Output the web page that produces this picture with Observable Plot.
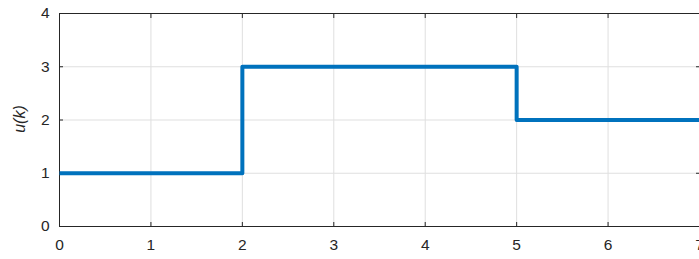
<!DOCTYPE html>
<html>
<head>
<meta charset="utf-8">
<script src="https://cdn.jsdelivr.net/npm/d3@7"></script>
<script src="https://cdn.jsdelivr.net/npm/@observablehq/plot@0.6"></script>
<style>
  html, body { margin: 0; padding: 0; background: #fff; overflow: hidden; }
  #chart svg { overflow: visible; }
  #chart svg text { font-size: 15.5px; font-family: 'Liberation Sans', Arial, sans-serif; }
  #chart svg text.ylab { font-size: 16px; font-style: italic; }
</style>
</head>
<body>
<div id="chart"></div>
<script>
// Step signal u(k)
const kValues = [0, 2, 2, 5, 5, 7];
const uValues = [1, 1, 3, 3, 2, 2];
const xTicks = [0, 1, 2, 3, 4, 5, 6, 7];
const yTicks = [0, 1, 2, 3, 4];
const yLabel = "u(k)";

const data = kValues.map((k, i) => ({k, u: uValues[i]}));
const axisColor = "#262626";
const gridColor = "#dfdfdf";
const fmt = d3.format("d");

const chart = Plot.plot({
  width: 699,
  height: 259,
  marginLeft: 59,
  marginRight: 0,
  marginTop: 13,
  marginBottom: 33,
  style: {fontFamily: "'Liberation Sans', Arial, sans-serif", fontSize: "15.5px", color: axisColor, background: "#fff", overflow: "visible"},
  x: {domain: [0, 7]},
  y: {domain: [0, 4]},
  marks: [
    Plot.ruleX(xTicks.slice(1, -1), {stroke: gridColor, strokeWidth: 1}),
    Plot.ruleY(yTicks.slice(1, -1), {stroke: gridColor, strokeWidth: 1}),
    Plot.ruleY([0, 4], {stroke: axisColor, strokeWidth: 1}),
    Plot.ruleX([0], {stroke: axisColor, strokeWidth: 1}),
    Plot.axisX({anchor: "bottom", ticks: xTicks, tickSize: -4, tickPadding: 16, tickFormat: fmt, label: null, stroke: axisColor, fill: axisColor}),
    Plot.axisX({anchor: "top", ticks: xTicks, tickSize: -4, tickFormat: () => "", label: null, stroke: axisColor}),
    Plot.axisY({anchor: "left", ticks: yTicks, tickSize: -4, tickPadding: 14, tickFormat: fmt, label: null, stroke: axisColor, fill: axisColor}),
    Plot.axisY({anchor: "right", ticks: yTicks, tickSize: -4, tickFormat: () => "", label: null, stroke: axisColor}),
    Plot.line(data, {x: "k", y: "u", stroke: "#0072BD", strokeWidth: 4, strokeLinejoin: "round", strokeLinecap: "butt"})
  ]
});

// y-axis label (italic, rotated)
const svg = d3.select(chart);
svg.append("text")
  .attr("class", "ylab")
  .attr("transform", "translate(25,119) rotate(-90)")
  .attr("text-anchor", "middle")
  .attr("fill", axisColor)
  .text(yLabel);

document.getElementById("chart").appendChild(chart);
</script>
</body>
</html>
